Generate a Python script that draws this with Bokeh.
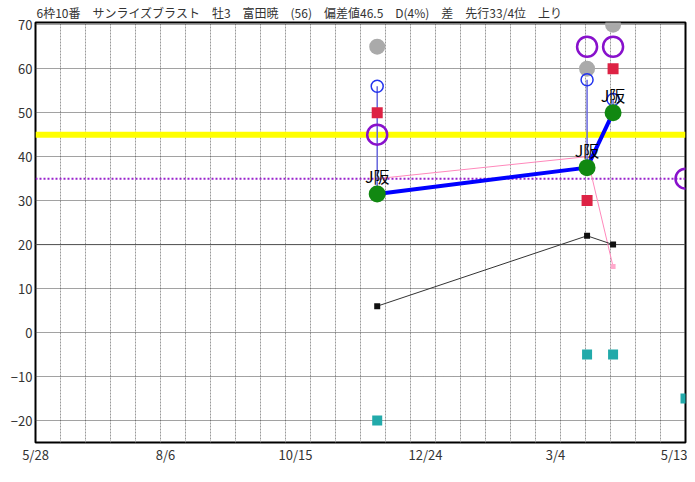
from datetime import date
from bokeh.plotting import figure
from bokeh.models import FixedTicker, Span, Range1d
from bokeh.core.properties import value
from bokeh.embed import file_html
from bokeh.resources import INLINE

title_text = "6枠10番　サンライズブラスト　牡3　富田暁　(56)　偏差値46.5　D(4%)　差　先行33/4位　上り"

axis_start = date(2018, 5, 28)
axis_end = date(2019, 5, 13)
tick_dates = [date(2018, 5, 28), date(2018, 8, 6), date(2018, 10, 15),
              date(2018, 12, 24), date(2019, 3, 4), date(2019, 5, 13)]
tick_labels = ["5/28", "8/6", "10/15", "12/24", "3/4", "5/13"]
y_ticks = [-20, -10, 0, 10, 20, 30, 40, 50, 60, 70]

race_dates = [date(2018, 11, 28), date(2019, 3, 21), date(2019, 4, 4)]
race_labels = ["J阪", "J阪", "J阪"]
green_vals = [31.5, 37.5, 50]
blue_open_vals = [56, 57.5, 53]
red_vals = [50, 30, 60]
gray_vals = [65, 60, 70]
purple_vals = [45, 65, 65]
black_vals = [6, 22, 20]
pink_vals = [35, 40, 15]
teal_vals = [-20, -5, -5]

today_date = date(2019, 5, 13)
today_purple = [35]
today_teal = [-15]

yellow_level = 45
purple_level = 35
black_level = 20

FONT = "Noto Sans CJK JP"


def day(d):
    return (d - axis_start).days


xs = [day(d) for d in race_dates]
x_today = [day(today_date)]
x_end = day(axis_end)
tick_x = [day(d) for d in tick_dates]

p = figure(width=687, height=466, output_backend="svg", toolbar_location=None,
           x_range=Range1d(0, x_end), y_range=Range1d(-25, 70.5))
p.min_border_left = 35
p.min_border_right = 2
p.min_border_top = 0
p.min_border_bottom = 0

p.title.text = title_text
p.title.text_font = FONT
p.title.text_font_size = "12px"
p.title.text_font_style = "normal"
p.title.text_color = "#333333"
p.title.align = "left"
p.title.offset = 1
p.title.standoff = 3

p.outline_line_color = "black"
p.outline_line_width = 2
p.background_fill_color = "white"

# axes
p.xaxis.ticker = FixedTicker(ticks=tick_x)
p.xaxis.major_label_overrides = {t: l for t, l in zip(tick_x, tick_labels)}
p.yaxis.ticker = FixedTicker(ticks=y_ticks)
for ax in (p.xaxis[0], p.yaxis[0]):
    ax.axis_line_color = None
    ax.major_tick_line_color = None
    ax.minor_tick_line_color = None
    ax.major_tick_out = 0
    ax.major_tick_in = 0
    ax.minor_tick_out = 0
    ax.minor_tick_in = 0
    ax.major_label_text_font = FONT
    ax.major_label_text_font_size = "13px"
    ax.major_label_text_color = "#333333"
p.xaxis.major_label_standoff = 2
p.yaxis.major_label_standoff = 3

# grid
p.xgrid.ticker = FixedTicker(ticks=[x_end * i / 26 for i in range(1, 26)])
p.xgrid.grid_line_color = "#999999"
p.xgrid.grid_line_dash = "2 1"
p.xgrid.grid_line_width = 1
p.ygrid.ticker = FixedTicker(ticks=y_ticks)
p.ygrid.grid_line_color = "#444444"
p.ygrid.grid_line_dash = "1 1"
p.ygrid.grid_line_width = 1

# reference lines
p.add_layout(Span(location=black_level, dimension="width", line_color="#555555",
                  line_width=1, level="underlay"))
p.add_layout(Span(location=yellow_level, dimension="width", line_color="#ffff00",
                  line_width=6, level="underlay"))
p.add_layout(Span(location=purple_level, dimension="width", line_color="#9922cc",
                  line_width=2, line_dash="2 2", level="underlay"))

# lines
p.line(xs, pink_vals, line_color="#ff88bb", line_width=1)
p.line(xs, black_vals, line_color="#333333", line_width=1)
p.segment(x0=xs, y0=green_vals, x1=xs, y1=blue_open_vals,
          line_color="#6666dd", line_width=1.5)
p.line(xs, green_vals, line_color="#0000ff", line_width=4)

# markers
p.scatter(xs, gray_vals, marker="circle", size=16, fill_color="#aaaaaa", line_color=None)
p.scatter(xs, red_vals, marker="square", size=11, fill_color="#dd2244", line_color=None)
p.scatter(xs, teal_vals, marker="square", size=10, fill_color="#22aaaa", line_color=None)
p.scatter(x_today, today_teal, marker="square", size=10, fill_color="#22aaaa", line_color=None)
p.scatter(xs, black_vals, marker="square", size=6, fill_color="#111111", line_color=None)
p.scatter(xs[2:], pink_vals[2:], marker="square", size=5, fill_color="#ffaacc", line_color=None)
p.scatter(xs, blue_open_vals, marker="circle", size=12, fill_color=None,
          line_color="#2233ee", line_width=1.5)
p.scatter(xs, purple_vals, marker="circle", size=20, fill_color=None,
          line_color="#8811cc", line_width=2.5)
p.scatter(x_today, today_purple, marker="circle", size=20, fill_color=None,
          line_color="#8811cc", line_width=2.5)
p.scatter(xs, green_vals, marker="circle", size=17, fill_color="#118811", line_color=None)

p.text(xs, green_vals, text=race_labels, text_align="center", text_baseline="bottom",
       y_offset=-6, text_font=value(FONT), text_font_size="16px", text_color="black")

open("out.html", "w").write(file_html(p, INLINE))
